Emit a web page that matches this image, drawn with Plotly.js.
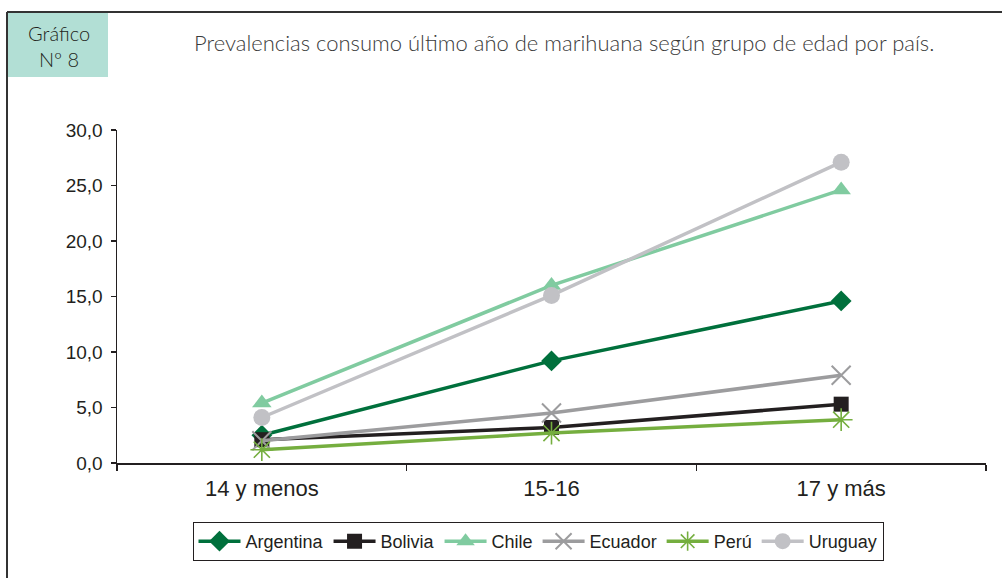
<!DOCTYPE html>
<html>
<head>
<meta charset="utf-8">
<script src="https://cdn.plot.ly/plotly-3.0.1.min.js"></script>
<style>html,body{margin:0;padding:0;background:#fff;}#chart{width:1002px;height:578px;}</style>
</head>
<body>
<div id="chart"></div>
<script>
var categories = ["14 y menos", "15-16", "17 y más"];
var argentina = [2.5, 9.2, 14.6];
var bolivia   = [2.1, 3.2, 5.3];
var chile     = [5.4, 16.0, 24.6];
var ecuador   = [2.0, 4.5, 7.9];
var peru      = [1.2, 2.7, 3.9];
var uruguay   = [4.1, 15.1, 27.1];
var seriesNames = ["Argentina", "Bolivia", "Chile", "Ecuador", "Perú", "Uruguay"];
var yTicks = [0, 5, 10, 15, 20, 25, 30];

var W = 1002, H = 578;
function px(x){ return x / W; }
function py(y){ return 1 - y / H; }

var styles = [
  {color:"#00703C", symbol:"diamond", size:16, lw:0},
  {color:"#231F20", symbol:"square", size:15, lw:0},
  {color:"#80CBA0", symbol:"triangle-up", size:17, lw:0},
  {color:"#9C9C9E", symbol:"x-thin-open", size:19, lw:2},
  {color:"#75AE3F", symbol:"asterisk-open", size:19, lw:1.6},
  {color:"#C1C1C5", symbol:"circle", size:17, lw:0}
];
var data = [argentina, bolivia, chile, ecuador, peru, uruguay];
var traces = data.map(function(vals, i){
  var s = styles[i];
  return {
    type:"scatter", mode:"lines+markers", x:categories, y:vals, name:seriesNames[i],
    line:{color:s.color, width:3.5},
    marker:{symbol:s.symbol, size:s.size, color:s.color, line:{color:s.color, width:s.lw}},
    hoverinfo:"skip"
  };
});

var font = "Liberation Sans, Arial, sans-serif";
var layout = {
  width:W, height:H,
  margin:{l:0, r:0, t:0, b:0},
  paper_bgcolor:"#fff", plot_bgcolor:"#fff",
  separators:",.",
  showlegend:true,
  xaxis:{
    type:"category", domain:[px(117), px(986)], range:[-0.5, 2.5],
    showline:true, linecolor:"#231F20", linewidth:1.5,
    ticks:"outside", ticklen:6, tickcolor:"#231F20", tickwidth:1.5, tickson:"boundaries",
    showgrid:false, zeroline:false, ticklabelstandoff:5,
    tickfont:{family:font, size:22, color:"#231F20"}
  },
  yaxis:{
    domain:[py(463), py(130)], range:[0, 30],
    tickvals:yTicks, tickformat:".1f",
    showline:true, linecolor:"#231F20", linewidth:1.5,
    ticks:"outside", ticklen:5, tickcolor:"#231F20", tickwidth:1.5,
    showgrid:false, zeroline:false, ticklabelstandoff:4,
    tickfont:{family:font, size:19, color:"#231F20"}
  },
  legend:{
    orientation:"h", x:px(538), y:py(522), xanchor:"center", yanchor:"top",
    bordercolor:"#231F20", borderwidth:1, bgcolor:"#fff",
    font:{family:"Liberation Sans Narrow, Arial Narrow, Liberation Sans, sans-serif", size:18, color:"#231F20"},
    itemwidth:42, tracegroupgap:0
  },
  shapes:[
    {type:"line", xref:"paper", yref:"paper", x0:px(7), x1:px(1002), y0:py(12), y1:py(12), line:{color:"#333", width:2}},
    {type:"line", xref:"paper", yref:"paper", x0:px(7), x1:px(7), y0:py(12), y1:py(578), line:{color:"#333", width:2}},
    {type:"rect", xref:"paper", yref:"paper", x0:px(8), x1:px(108), y0:py(13), y1:py(77), fillcolor:"#B2DFD5", line:{width:0}, layer:"below"}
  ],
  annotations:[
    {xref:"paper", yref:"paper", x:px(59), y:py(33), text:"Gráfico", showarrow:false, xanchor:"center", yanchor:"middle",
     font:{family:"Lato, Open Sans, sans-serif", size:20, color:"#231F20", weight:300}},
    {xref:"paper", yref:"paper", x:px(59), y:py(59), text:"Nº 8", showarrow:false, xanchor:"center", yanchor:"middle",
     font:{family:"Lato, Open Sans, sans-serif", size:20, color:"#231F20", weight:300}},
    {xref:"paper", yref:"paper", x:px(192), y:py(42), text:"Prevalencias consumo último año de marihuana según grupo de edad por país.", showarrow:false, xanchor:"left", yanchor:"middle",
     font:{family:"Lato, Open Sans, sans-serif", size:22, color:"#3a3a3a", weight:300}}
  ]
};
Plotly.newPlot("chart", traces, layout, {staticPlot:true});
</script>
</body>
</html>
